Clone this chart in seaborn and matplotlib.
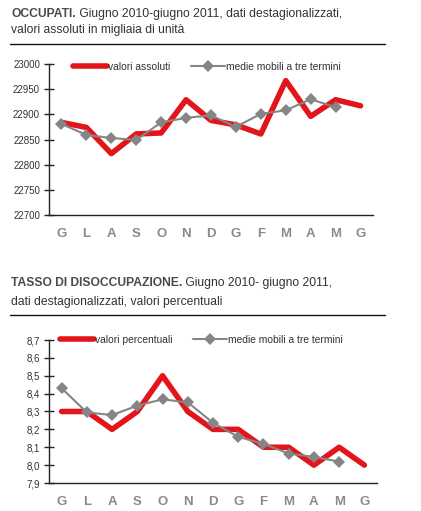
import numpy as np
import pandas as pd
import matplotlib
matplotlib.use("Agg")
import matplotlib.pyplot as plt
from matplotlib import font_manager
from matplotlib.lines import Line2D
import seaborn as sns

months = ["G", "L", "A", "S", "O", "N", "D", "G", "F", "M", "A", "M", "G"]

occ_values = [22884, 22874, 22822, 22861, 22863, 22929, 22888, 22879, 22861, 22967, 22896, 22929, 22917]
occ_mm = [22881, 22859, 22853, 22849, 22884, 22893, 22898, 22875, 22901, 22908, 22930, 22914]
occ_yticks = [22700, 22750, 22800, 22850, 22900, 22950, 23000]
occ_yticklabels = ["22700", "22750", "22800", "22850", "22900", "22950", "23000"]

dis_values = [8.3, 8.3, 8.2, 8.3, 8.5, 8.3, 8.2, 8.2, 8.1, 8.1, 8.0, 8.1, 8.0]
dis_mm = [8.43, 8.295, 8.28, 8.333, 8.368, 8.351, 8.237, 8.158, 8.119, 8.065, 8.046, 8.02]
dis_yticks = [7.9, 8.0, 8.1, 8.2, 8.3, 8.4, 8.5, 8.6, 8.7]
dis_yticklabels = ["7,9", "8,0", "8,1", "8,2", "8,3", "8,4", "8,5", "8,6", "8,7"]

title1_bold = "OCCUPATI."
title1_rest = " Giugno 2010-giugno 2011, dati destagionalizzati,"
title1_line2 = "valori assoluti in migliaia di unità"
title2_bold = "TASSO DI DISOCCUPAZIONE."
title2_rest = " Giugno 2010- giugno 2011,"
title2_line2 = "dati destagionalizzati, valori percentuali"

leg1 = ["valori assoluti", "medie mobili a tre termini"]
leg2 = ["valori percentuali", "medie mobili a tre termini"]

sns.set_theme(style="white")
names = {f.name for f in font_manager.fontManager.ttflist}
fam = ["Liberation Sans Narrow"] if "Liberation Sans Narrow" in names else ["Liberation Sans"]
plt.rcParams["font.family"] = fam + ["DejaVu Sans"]

RED = "#e3151b"
GRAY = "#858585"

fig = plt.figure(figsize=(4.21, 5.11), dpi=100)
fig.patch.set_facecolor("white")
W, H = 421, 511


def fx(px):
    return px / W


def fy(py):
    return 1 - py / H


def draw_title(bold, rest, line2, y1, y2, yline):
    r = fig.canvas.get_renderer()
    t = fig.text(fx(11), fy(y1), bold, fontsize=8.7, fontweight="bold", color="#4a4a4a", va="center", ha="left")
    bb = t.get_window_extent(renderer=r)
    fig.text(bb.x1 / W, fy(y1), rest, fontsize=8.7, color="#333333", va="center", ha="left")
    fig.text(fx(11), fy(y2), line2, fontsize=8.7, color="#333333", va="center", ha="left")
    fig.add_artist(Line2D([fx(10), fx(385)], [fy(yline), fy(yline)], color="#111111", lw=1.0, transform=fig.transFigure))


def draw_panel(rect, values, mm, yticks, yticklabels, labels, leg_anchor, hl):
    ax = fig.add_axes(rect)
    x = np.arange(len(months))
    df = pd.DataFrame({"x": x, "v": values})
    dm = pd.DataFrame({"x": x[:len(mm)], "v": mm})
    sns.lineplot(data=df, x="x", y="v", ax=ax, color=RED, lw=4.0, label=labels[0])
    sns.lineplot(data=dm, x="x", y="v", ax=ax, color=GRAY, lw=1.5, marker="D", markersize=6.5,
                 markeredgewidth=0, label=labels[1])
    ax.set_xlim(-0.5, len(months) - 0.5)
    ax.set_ylim(yticks[0], yticks[-1])
    ax.set_yticks(yticks)
    ax.set_yticklabels(yticklabels, fontsize=7, color="#333333")
    ax.set_xticks(x)
    ax.set_xticklabels(months, fontsize=9.5, color="#8a8a8a", fontweight="bold")
    ax.set_xlabel("")
    ax.set_ylabel("")
    for s in ["top", "right"]:
        ax.spines[s].set_visible(False)
    for s in ["left", "bottom"]:
        ax.spines[s].set_color("#222222")
        ax.spines[s].set_linewidth(1.0)
    ax.tick_params(axis="y", direction="inout", length=7, width=1, color="#222222", pad=3, left=True)
    ax.tick_params(axis="x", length=0, pad=9)
    ax.set_facecolor("white")
    leg = ax.legend(loc="center left", bbox_to_anchor=leg_anchor, ncol=2, frameon=False,
                    handlelength=hl, handletextpad=0.1, columnspacing=2.0, fontsize=7.4,
                    borderaxespad=0, borderpad=0)
    for t in leg.get_texts():
        t.set_color("#333333")
    return ax


draw_title(title1_bold, title1_rest, title1_line2, 14, 30, 44)
draw_title(title2_bold, title2_rest, title2_line2, 283, 302, 315)

draw_panel([fx(49), fy(215), fx(373) - fx(49), fy(64) - fy(215)], occ_values, occ_mm,
           occ_yticks, occ_yticklabels, leg1, ((73 - 49) / (373 - 49), 1 - 3 / 151), 3.3)
draw_panel([fx(49), fy(483), fx(377) - fx(49), fy(340) - fy(483)], dis_values, dis_mm,
           dis_yticks, dis_yticklabels, leg2, ((60 - 49) / (377 - 49), 1.0), 3.3)

fig.savefig("out.png", dpi=100, facecolor="white")
